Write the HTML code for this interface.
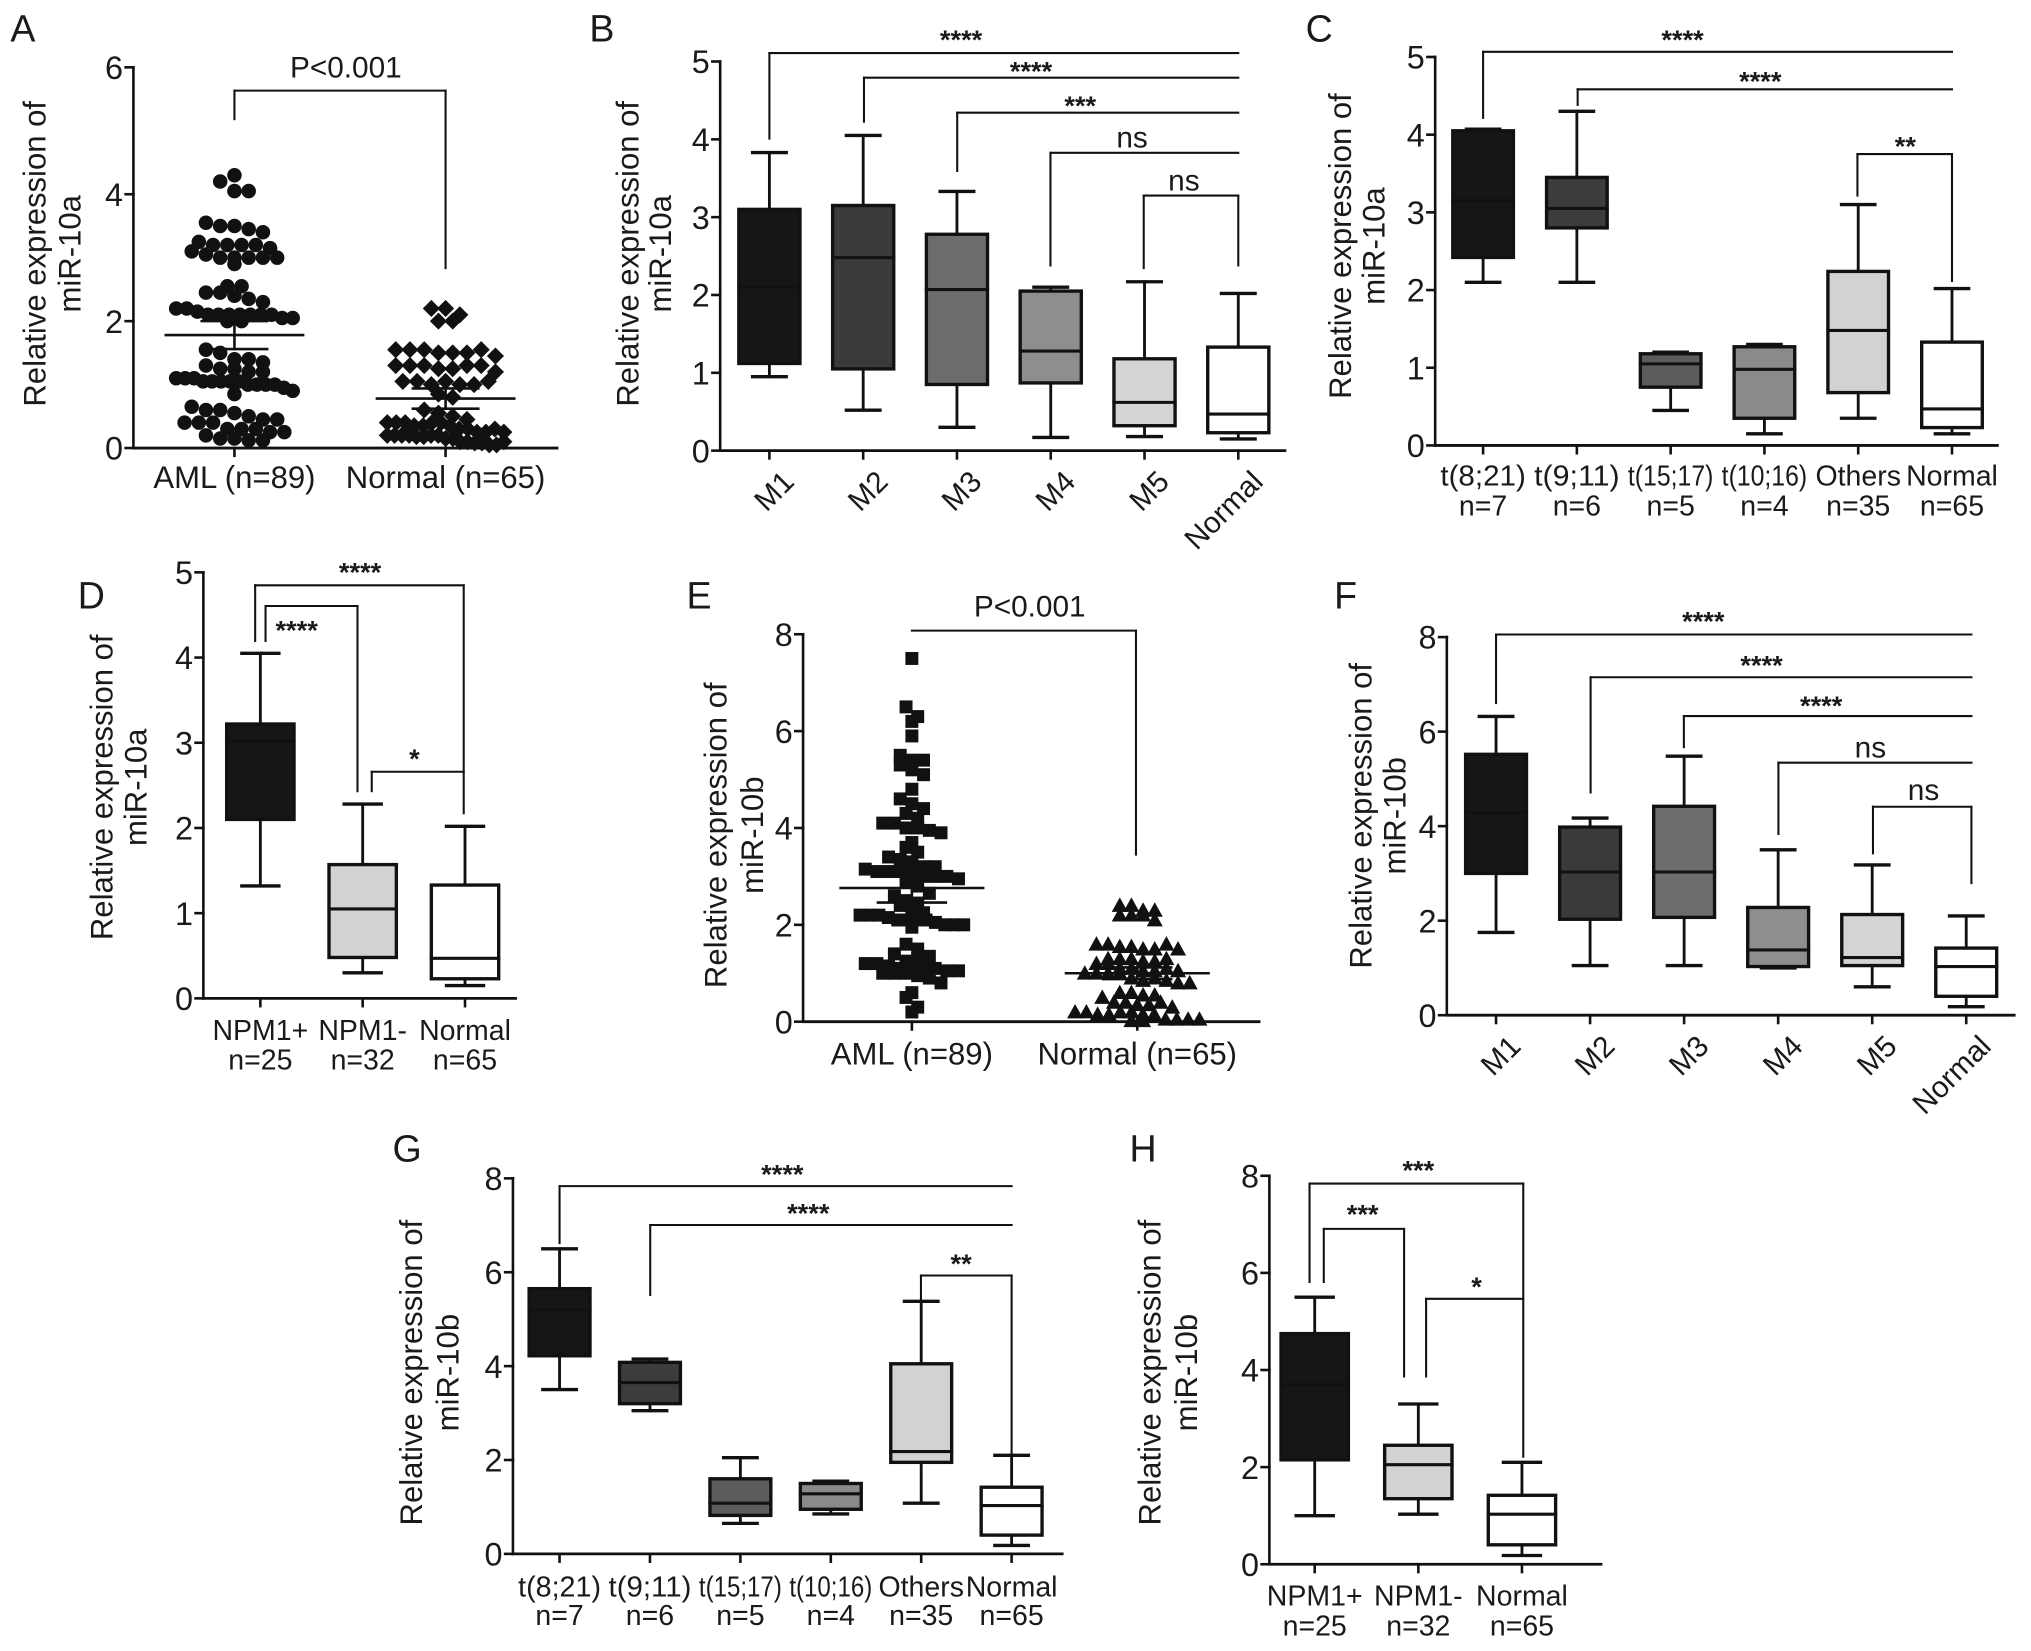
<!DOCTYPE html>
<html><head><meta charset="utf-8"><style>
html,body{margin:0;padding:0;background:#fff}
svg{display:block}
text{font-family:"Liberation Sans",Arial,sans-serif;fill:#1a1a1a}
</style></head><body>
<svg id="fig" xmlns="http://www.w3.org/2000/svg" width="2031" height="1651" viewBox="0 0 1568 1275" preserveAspectRatio="none"></svg>
<script>
// ---------- DATA ----------
const catsFAB = ["M1","M2","M3","M4","M5","Normal"];
const catsKary = ["t(8;21)\nn=7","t(9;11)\nn=6","t(15;17)\nn=5","t(10;16)\nn=4","Others\nn=35","Normal\nn=65"];
const catsNPM = ["NPM1+\nn=25","NPM1-\nn=32","Normal\nn=65"];
const catsScatter = ["AML (n=89)","Normal (n=65)"];

// Panel B (miR-10a by FAB)
const bLo=[0.95,0.52,0.30,0.17,0.18,0.15];
const bQ1=[1.12,1.05,0.85,0.87,0.32,0.23];
const bMed=[2.10,2.48,2.07,1.28,0.62,0.47];
const bQ3=[3.10,3.15,2.78,2.05,1.18,1.33];
const bHi=[3.83,4.05,3.33,2.10,2.17,2.02];
// Panel C (miR-10a by karyotype)
const cLo=[2.10,2.10,0.45,0.15,0.35,0.15];
const cQ1=[2.42,2.80,0.75,0.35,0.68,0.23];
const cMed=[3.15,3.05,1.05,0.98,1.48,0.47];
const cQ3=[4.05,3.45,1.18,1.27,2.24,1.33];
const cHi=[4.07,4.30,1.20,1.30,3.10,2.02];
// Panel D (miR-10a by NPM1)
const dLo=[1.32,0.30,0.15];
const dQ1=[2.10,0.48,0.23];
const dMed=[3.02,1.05,0.47];
const dQ3=[3.22,1.57,1.33];
const dHi=[4.05,2.28,2.02];
// Panel F (miR-10b by FAB)
const fLo=[1.75,1.05,1.05,1.00,0.60,0.18];
const fQ1=[3.00,2.03,2.07,1.03,1.05,0.40];
const fMed=[4.28,3.03,3.03,1.38,1.22,1.03];
const fQ3=[5.52,3.98,4.42,2.28,2.13,1.42];
const fHi=[6.32,4.17,5.48,3.50,3.18,2.10];
// Panel G (miR-10b by karyotype)
const gLo=[3.50,3.05,0.65,0.85,1.08,0.18];
const gQ1=[4.22,3.20,0.82,0.95,1.95,0.40];
const gMed=[5.20,3.65,1.08,1.28,2.18,1.03];
const gQ3=[5.65,4.08,1.60,1.50,4.05,1.42];
const gHi=[6.50,4.15,2.05,1.55,5.38,2.10];
// Panel H (miR-10b by NPM1)
const hLo=[1.00,1.03,0.18];
const hQ1=[2.15,1.35,0.40];
const hMed=[3.70,2.05,1.03];
const hQ3=[4.75,2.45,1.42];
const hHi=[5.50,3.30,2.10];

// Panel A scatter (miR-10a)
const aAML=[4.3,4.2,4.05,4.05,3.55,3.5,3.5,3.45,3.4,3.25,3.2,3.2,3.2,3.2,3.15,3.1,3.05,3.0,3.0,3.0,3.0,3.0,2.9,2.55,2.55,2.45,2.45,2.4,2.35,2.3,2.2,2.2,2.15,2.1,2.1,2.1,2.1,2.1,2.1,2.1,2.05,2.05,2.0,2.0,1.55,1.5,1.4,1.4,1.35,1.3,1.25,1.25,1.2,1.2,1.1,1.1,1.1,1.05,1.05,1.05,1.05,1.05,1.0,1.0,1.0,1.0,0.95,0.9,0.85,0.65,0.6,0.6,0.55,0.5,0.45,0.45,0.4,0.4,0.4,0.3,0.3,0.3,0.25,0.25,0.2,0.15,0.15,0.12,0.12];
const aNorm=[2.2,2.2,2.1,2.0,2.0,1.55,1.55,1.55,1.5,1.5,1.5,1.55,1.45,1.3,1.3,1.3,1.25,1.25,1.3,1.3,1.2,1.05,1.05,1.0,1.05,1.0,1.0,1.05,0.85,0.8,0.6,0.55,0.5,0.45,0.4,0.4,0.4,0.35,0.35,0.4,0.4,0.35,0.3,0.3,0.25,0.25,0.3,0.25,0.2,0.2,0.2,0.2,0.18,0.18,0.2,0.2,0.15,0.15,0.1,0.1,0.08,0.08,0.05,0.05,0.1];
const aMean=[1.78,0.78];
const aSem=[0.22,0.16];
// Panel E scatter (miR-10b)
const eAML=[7.5,6.5,6.3,6.2,5.9,5.5,5.4,5.4,5.3,5.2,5.1,4.6,4.5,4.4,4.3,4.2,4.1,4.1,4.0,4.0,3.95,3.9,3.6,3.5,3.4,3.35,3.3,3.2,3.2,3.15,3.1,3.1,3.1,3.05,3.0,3.0,3.0,2.95,2.9,2.8,2.6,2.5,2.45,2.4,2.3,2.25,2.2,2.2,2.2,2.15,2.1,2.1,2.1,2.1,2.05,2.0,2.0,2.0,1.95,1.6,1.5,1.4,1.25,1.2,1.2,1.15,1.1,1.1,1.1,1.1,1.05,1.05,1.0,1.0,1.0,0.95,0.9,0.8,0.6,0.5,0.3,0.2,2.65,3.7,1.3,1.35,4.8];
const eNorm=[2.4,2.4,2.3,2.3,2.2,2.2,2.2,2.1,1.6,1.6,1.55,1.55,1.5,1.5,1.6,1.5,1.3,1.3,1.3,1.25,1.25,1.2,1.3,1.2,1.1,1.1,1.05,1.05,1.0,1.0,1.1,1.05,1.0,1.0,0.9,0.85,0.9,0.85,0.8,0.8,0.6,0.6,0.55,0.55,0.5,0.4,0.4,0.35,0.35,0.4,0.3,0.2,0.2,0.15,0.15,0.2,0.2,0.15,0.15,0.05,0.05,0.05,0.02,0.02,0.05];
const eMean=[2.76,1.0];
const eSem=[0.3,0.12];

const greysFAB=["#161616","#3a3a3a","#6c6c6c","#8e8e8e","#d4d4d4","#ffffff"];
const greysKary=["#161616","#3c3c3c","#5c5c5c","#8a8a8a","#d2d2d2","#ffffff"];
const greysNPM=["#161616","#d2d2d2","#ffffff"];

// ---------- HELPERS ----------
const NS="http://www.w3.org/2000/svg";
const fig=document.getElementById('fig');
function mk(tag,parent){const e=document.createElementNS(NS,tag);parent.appendChild(e);return e;}
function line(p,x1,y1,x2,y2,w){const l=mk('line',p);l.setAttribute('x1',x1);l.setAttribute('y1',y1);l.setAttribute('x2',x2);l.setAttribute('y2',y2);l.setAttribute('stroke','#111');l.setAttribute('stroke-width',w||2);l.setAttribute('stroke-linecap','square');return l;}
function txt(p,x,y,s,size,anchor){const t=mk('text',p);t.setAttribute('x',x);t.setAttribute('y',y);t.setAttribute('font-size',size);t.setAttribute('text-anchor',anchor||'middle');t.textContent=s;return t;}

function axes(g,cfg){
  const yS=v=>cfg.y0-v*cfg.unit;
  const ax=mk('g',g);
  
  
  line(ax,cfg.ax,cfg.y0,cfg.ax,yS(cfg.ticks[cfg.ticks.length-1]),2);
  cfg.ticks.forEach(t=>{
    line(ax,cfg.ax-6,yS(t),cfg.ax,yS(t),2);
    const tl=txt(ax,cfg.ax-8,yS(t)+9,String(t),25,'end');
    
    
  });
  const xa=mk('g',g);
  
  
  line(xa,cfg.ax,cfg.y0,cfg.xEnd,cfg.y0,2.2);
  const yt=mk('g',g);
  
  
  const t1=txt(yt,cfg.yl1,cfg.ylc,"Relative expression of",24);
  t1.setAttribute('transform','rotate(-90 '+cfg.yl1+' '+cfg.ylc+')');
  const t2=txt(yt,cfg.yl2,cfg.ylc,cfg.mir,24);
  t2.setAttribute('transform','rotate(-90 '+cfg.yl2+' '+cfg.ylc+')');
  const pl=txt(g,cfg.lx,cfg.ly,cfg.letter,29,'start');
  
  
  return yS;
}

function xLabels(g,cfg,cats,xs,yS){
  cats.forEach((c,i)=>{
    line(g,xs[i],cfg.y0,xs[i],cfg.y0+6,2);
    const lab=mk('g',g);
    
    
    if(cfg.rot){
      const x=xs[i]+9,y=cfg.y0+14;
      const t=txt(lab,x,y,c,23,'end');
      t.setAttribute('transform','rotate(-45 '+x+' '+y+')');
      t.setAttribute('dominant-baseline','hanging');
    } else {
      const parts=c.split('\n');
      parts.forEach((p,k)=>{
        const t=txt(lab,xs[i]+(cfg.lblDx||0),cfg.y0+cfg.lblY+k*cfg.lblLH,p,cfg.lblSize||22);
        if(cfg.squeeze && p.length>6){t.setAttribute('textLength',cfg.squeeze);t.setAttribute('lengthAdjust','spacingAndGlyphs');}
      });
    }
  });
}

function brackets(g,list){
  list.forEach(b=>{
    const bg=mk('g',g);
    
    
    line(bg,b[0],b[2],b[1],b[2],1.6);
    if(b[3]!==null) line(bg,b[0],b[2],b[0],b[3],1.6);
    if(b[4]!==null) line(bg,b[1],b[2],b[1],b[4],1.6);
    const ns=b[5]==='ns'||b[5].startsWith('P');
    const t=txt(bg,b[6],b[7]+(ns?0:1),b[5],ns?23:21);
    if(!ns) t.setAttribute('font-weight','bold');
  });
}

function boxPanel(cfg,cats,lo,q1,med,q3,hi,cols,br){
  const g=mk('g',fig);
  
  
  const yS=axes(g,cfg);
  const xs=cats.map((c,i)=>cfg.x0+i*cfg.dx);
  cats.forEach((c,i)=>{
    const bx=mk('g',g);
    
    
    const x=xs[i],hw=cfg.hw;
    line(bx,x,yS(hi[i]),x,yS(lo[i]),2.2);
    line(bx,x-hw*0.55,yS(hi[i]),x+hw*0.55,yS(hi[i]),2.6);
    line(bx,x-hw*0.55,yS(lo[i]),x+hw*0.55,yS(lo[i]),2.6);
    const r=mk('rect',bx);
    r.setAttribute('x',x-hw);r.setAttribute('y',yS(q3[i]));
    r.setAttribute('width',2*hw);r.setAttribute('height',yS(q1[i])-yS(q3[i]));
    r.setAttribute('fill',cols[i]);r.setAttribute('stroke','#111');r.setAttribute('stroke-width',2.6);
    line(bx,x-hw,yS(med[i]),x+hw,yS(med[i]),2.4);
  });
  xLabels(g,cfg,cats,xs,yS);
  brackets(g,br);
}

// compact swarm: bin by pixel rows, spread within a max half-width (overlap allowed)
function swarm(vals,cx,yS,d,maxHalf){
  const bins={};
  vals.forEach(v=>{const y=yS(v);const k=Math.round(y/d);(bins[k]=bins[k]||[]).push(y);});
  const out=[];
  Object.keys(bins).forEach(k=>{
    const ys=bins[k];const n=ys.length;
    const half=Math.min((n-1)*d/2,maxHalf);
    ys.forEach((y,i)=>{const x=n===1?cx:cx-half+i*(2*half/(n-1));out.push([x,y]);});
  });
  return out;
}

function marker(p,shape,x,y,s){
  let m;
  if(shape==='circle'){m=mk('circle',p);m.setAttribute('cx',x);m.setAttribute('cy',y);m.setAttribute('r',s);}
  else if(shape==='diamond'){m=mk('polygon',p);m.setAttribute('points',`${x},${y-s} ${x+s},${y} ${x},${y+s} ${x-s},${y}`);}
  else if(shape==='square'){m=mk('rect',p);m.setAttribute('x',x-s);m.setAttribute('y',y-s);m.setAttribute('width',2*s);m.setAttribute('height',2*s);}
  else {m=mk('polygon',p);m.setAttribute('points',`${x},${y-s} ${x+s},${y+s*0.8} ${x-s},${y+s*0.8}`);}
  m.setAttribute('fill','#111');
  return m;
}

function scatterPanel(cfg,cats,g1,g2,means,sems,br){
  const g=mk('g',fig);
  
  
  const yS=axes(g,cfg);
  const xs=[cfg.x0,cfg.x0+cfg.dx];
  [g1,g2].forEach((vals,i)=>{
    const sg=mk('g',g);
    
    
    swarm(vals,xs[i],yS,cfg.d,cfg.maxHalf[i]).forEach(p=>{
      const m=marker(sg,cfg.shapes[i],p[0],p[1],cfg.ms[i]);
      
      
    });
    const mg=mk('g',g);
    
    
    line(mg,xs[i]-cfg.mw,yS(means[i]),xs[i]+cfg.mw,yS(means[i]),2);
    line(mg,xs[i],yS(means[i]-sems[i]),xs[i],yS(means[i]+sems[i]),2);
    line(mg,xs[i]-cfg.mw/2.1,yS(means[i]-sems[i]),xs[i]+cfg.mw/2.1,yS(means[i]-sems[i]),2);
    line(mg,xs[i]-cfg.mw/2.1,yS(means[i]+sems[i]),xs[i]+cfg.mw/2.1,yS(means[i]+sems[i]),2);
  });
  xLabels(g,cfg,cats,xs,yS);
  brackets(g,br);
}

// ---------- PANELS ----------
scatterPanel({letter:'A',lx:8,ly:32,ax:103,y0:346,unit:49,xEnd:430,ticks:[0,2,4,6],x0:181,dx:163,
  yl1:35,yl2:62,ylc:196,mir:'miR-10a',lblY:31,lblLH:22,lblSize:24,d:11,maxHalf:[45,45],ms:[5.6,6.6],shapes:['circle','diamond'],mw:53},
  catsScatter,aAML,aNorm,aMean,aSem,
  [[181,344,70,92,207,'P<0.001',267,60]]);

boxPanel({letter:'B',lx:455,ly:32,ax:556,y0:348,unit:60.1,xEnd:992,ticks:[0,1,2,3,4,5],x0:594,dx:72.4,hw:23.6,
  yl1:493,yl2:518,ylc:196,mir:'miR-10a',rot:true},
  catsFAB,bLo,bQ1,bMed,bQ3,bHi,greysFAB,
  [[594,956,41,107,null,'****',742,37],[667,956,60,94,null,'****',796,61],[739,956,87,132,null,'***',834,88],
   [811,956,118,205,null,'ns',874,114],[883,956,151,207,205,'ns',914,147]]);

boxPanel({letter:'C',lx:1008,ly:32,ax:1108,y0:344,unit:60,xEnd:1542,ticks:[0,1,2,3,4,5],x0:1145,dx:72.4,hw:23.4,
  yl1:1043,yl2:1069,ylc:190,mir:'miR-10a',lblY:31,lblLH:23,squeeze:66},
  catsKary,cLo,cQ1,cMed,cQ3,cHi,greysKary,
  [[1145,1507,40,91,null,'****',1299,37],[1218,1507,69,81,null,'****',1359,69],[1434,1507,119,151,217,'**',1471,119]]);

boxPanel({letter:'D',lx:60,ly:470,ax:157,y0:771,unit:65.8,xEnd:398,ticks:[0,1,2,3,4,5],x0:201,dx:79,hw:26,
  yl1:87,yl2:113,ylc:608,mir:'miR-10a',lblY:32,lblLH:23},
  catsNPM,dLo,dQ1,dMed,dQ3,dHi,greysNPM,
  [[197,358,452,495,628,'****',278,448],[205,276,468,495,611,'****',229,493],[287,358,596,611,null,'*',320,592]]);

scatterPanel({letter:'E',lx:530,ly:470,ax:620,y0:789,unit:37.4,xEnd:972,ticks:[0,2,4,6,8],x0:704,dx:174,
  yl1:561,yl2:589,ylc:645,mir:'miR-10b',lblY:33,lblLH:22,lblSize:24,d:9,maxHalf:[40,48],ms:[5,6.2],shapes:['square','triangle'],mw:55},
  catsScatter,eAML,eNorm,eMean,eSem,
  [[704,877,487,null,660,'P<0.001',795,476]]);

boxPanel({letter:'F',lx:1030,ly:470,ax:1117,y0:784,unit:36.5,xEnd:1555,ticks:[0,2,4,6,8],x0:1155,dx:72.6,hw:23.5,
  yl1:1059,yl2:1085,ylc:630,mir:'miR-10b',rot:true},
  catsFAB,fLo,fQ1,fMed,fQ3,fHi,greysFAB,
  [[1155,1522,490,543,null,'****',1315,486],[1228,1522,523,612,null,'****',1360,520],[1300,1522,553,577,null,'****',1406,551],
   [1373,1522,589,644,null,'ns',1444,585],[1446,1522,623,659,682,'ns',1485,618]]);

boxPanel({letter:'G',lx:303,ly:897,ax:396,y0:1200,unit:36.25,xEnd:820,ticks:[0,2,4,6,8],x0:432,dx:69.8,hw:23.5,
  yl1:326,yl2:354,ylc:1060,mir:'miR-10b',lblY:33,lblLH:22,squeeze:64},
  catsKary,gLo,gQ1,gMed,gQ3,gHi,greysKary,
  [[432,781,916,960,null,'****',604,913],[502,781,946,1000,null,'****',624,943],[711,781,985,1005,1140,'**',742,982]]);

boxPanel({letter:'H',lx:872,ly:897,ax:980,y0:1208,unit:37.5,xEnd:1236,ticks:[0,2,4,6,8],x0:1015,dx:80,hw:26,
  yl1:896,yl2:924,ylc:1060,mir:'miR-10b',lblY:32,lblLH:23},
  catsNPM,hLo,hQ1,hMed,hQ3,hHi,greysNPM,
  [[1011,1176,914,990,1125,'***',1095,910],[1022,1084,949,990,1063,'***',1052,944],[1101,1176,1003,1063,null,'*',1140,1000]]);
</script>
</body></html>
